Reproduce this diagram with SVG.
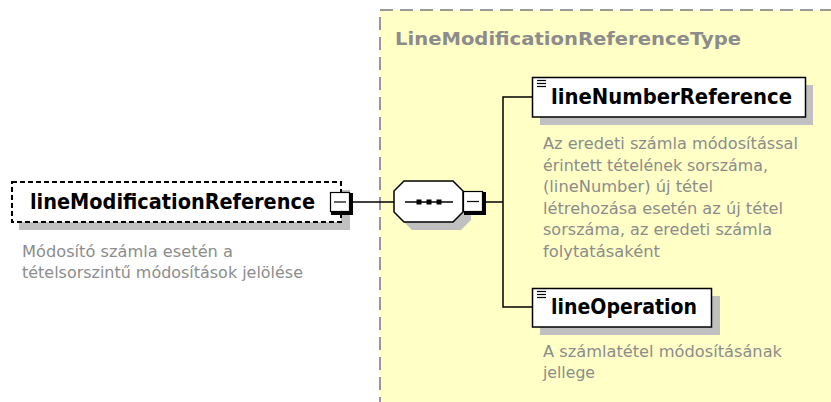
<svg xmlns="http://www.w3.org/2000/svg" width="831" height="402" viewBox="0 0 831 402">
<style>
.shadow{fill:#c0c0c0;stroke:none}
.box{fill:#fff;stroke:#000;stroke-width:1.5}
.lbl{font-family:"DejaVu Sans","Liberation Sans",sans-serif;font-weight:bold;font-size:21.5px;fill:#000}
.desc{font-family:"DejaVu Sans","Liberation Sans",sans-serif;font-size:16.5px;fill:#8c8c8c}
.conn{stroke:#000;stroke-width:1.5;fill:none}
.icon{stroke:#000;stroke-width:1.2}
</style>
<rect width="831" height="402" fill="#fff"/>
<g id="type">
<rect x="380" y="10" width="470" height="410" fill="#ffffc6" stroke="#999" stroke-width="2" stroke-dasharray="13,7"/>
<text x="395" y="45" font-family="DejaVu Sans, Liberation Sans, sans-serif" font-weight="bold" font-size="18px" fill="#8c8c8c" textLength="346" lengthAdjust="spacingAndGlyphs">LineModificationReferenceType</text>
</g>
<g id="connectors">
<line class="conn" x1="353" y1="202" x2="394" y2="202"/>
<line class="conn" x1="486" y1="202" x2="503" y2="202"/>
<polyline class="conn" points="532,97 503,97 503,307 532,307"/>
</g>
<g id="lineModificationReference">
<rect class="shadow" x="19" y="190" width="331" height="40"/>
<rect x="12" y="182" width="329" height="40" fill="#fff" stroke="#000" stroke-width="2" stroke-dasharray="5,3"/>
<text class="lbl" x="30" y="209" textLength="285" lengthAdjust="spacingAndGlyphs">lineModificationReference</text>
<rect x="330.5" y="192.5" width="19" height="19" fill="#fff" stroke="#000" stroke-width="1.2"/>
<polyline points="351.5,193 351.5,213.5 331,213.5" fill="none" stroke="#000" stroke-width="3"/>
<line x1="334" y1="202" x2="346" y2="202" stroke="#000" stroke-width="1.2"/>
<text class="desc" x="22" y="257" textLength="211" lengthAdjust="spacingAndGlyphs">Módosító számla esetén a</text>
<text class="desc" x="22" y="278" textLength="281" lengthAdjust="spacingAndGlyphs">tételsorszintű módosítások jelölése</text>
</g>
<g id="sequence">
<path class="shadow" d="M412,189 H461 L471,199 V220 L461,230 H412 L402,220 V199 Z"/>
<path d="M404,181 H453 L463,191 V212 L453,222 H404 L394,212 V191 Z" fill="#fff" stroke="#000" stroke-width="1.5"/>
<line x1="405" y1="202" x2="453" y2="202" stroke="#000" stroke-width="1.5"/>
<rect x="416.5" y="199.5" width="5" height="5" fill="#000"/>
<rect x="426.5" y="199.5" width="5" height="5" fill="#000"/>
<rect x="436.5" y="199.5" width="5" height="5" fill="#000"/>
<rect x="463.5" y="191.5" width="19" height="20" fill="#fff" stroke="#000" stroke-width="1.2"/>
<polyline points="484.5,192 484.5,213.5 464,213.5" fill="none" stroke="#000" stroke-width="3"/>
<line x1="467" y1="201.5" x2="479" y2="201.5" stroke="#000" stroke-width="1.2"/>
</g>
<g id="lineNumberReference">
<rect class="shadow" x="540" y="85" width="273" height="40"/>
<rect class="box" x="532.5" y="77.5" width="273" height="39.5"/>
<line class="icon" x1="537" y1="80.5" x2="546" y2="80.5"/>
<line class="icon" x1="537" y1="83.5" x2="546" y2="83.5"/>
<line class="icon" x1="537" y1="86.5" x2="546" y2="86.5"/>
<text class="lbl" x="551" y="104" textLength="241" lengthAdjust="spacingAndGlyphs">lineNumberReference</text>
<text class="desc" x="543" y="149" textLength="255" lengthAdjust="spacingAndGlyphs">Az eredeti számla módosítással</text>
<text class="desc" x="543" y="170.5" textLength="225" lengthAdjust="spacingAndGlyphs">érintett tételének sorszáma,</text>
<text class="desc" x="543" y="192" textLength="170" lengthAdjust="spacingAndGlyphs">(lineNumber) új tétel</text>
<text class="desc" x="543" y="213.5" textLength="240" lengthAdjust="spacingAndGlyphs">létrehozása esetén az új tétel</text>
<text class="desc" x="543" y="235" textLength="229" lengthAdjust="spacingAndGlyphs">sorszáma, az eredeti számla</text>
<text class="desc" x="543" y="256.5" textLength="117" lengthAdjust="spacingAndGlyphs">folytatásaként</text>
</g>
<g id="lineOperation">
<rect class="shadow" x="540" y="296" width="180" height="39"/>
<rect class="box" x="532.5" y="288.5" width="179" height="38.5"/>
<line class="icon" x1="537" y1="291.5" x2="546" y2="291.5"/>
<line class="icon" x1="537" y1="294.5" x2="546" y2="294.5"/>
<line class="icon" x1="537" y1="297.5" x2="546" y2="297.5"/>
<text class="lbl" x="551" y="314" textLength="146" lengthAdjust="spacingAndGlyphs">lineOperation</text>
<text class="desc" x="543" y="357" textLength="239" lengthAdjust="spacingAndGlyphs">A számlatétel módosításának</text>
<text class="desc" x="543" y="378" textLength="52" lengthAdjust="spacingAndGlyphs">jellege</text>
</g>
</svg>
